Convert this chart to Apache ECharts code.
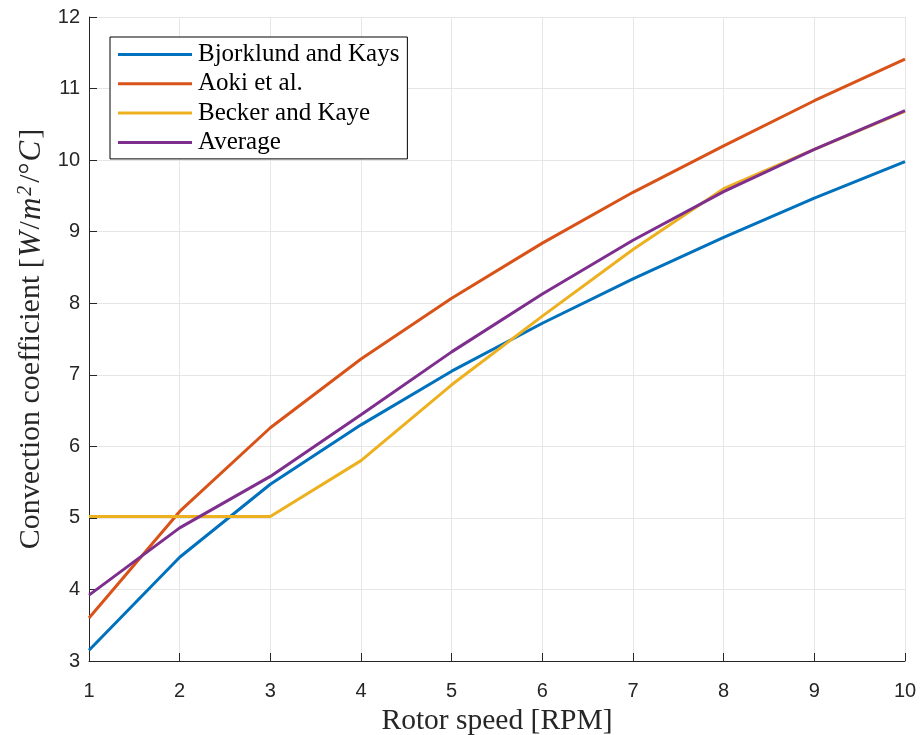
<!DOCTYPE html>
<html>
<head>
<meta charset="utf-8">
<script src="https://cdn.jsdelivr.net/npm/echarts@6/dist/echarts.min.js"></script>
<style>html,body{margin:0;padding:0;background:#fff}#c{width:921px;height:735px}</style>
</head>
<body>
<div id="c"></div>
<script>
const rpm = [1, 2, 3, 4, 5, 6, 7, 8, 9, 10];
const seriesNames = ['Bjorklund and Kays', 'Aoki et al.', 'Becker and Kaye', 'Average'];
const bjorklund = [3.15, 4.45, 5.47, 6.30, 7.05, 7.72, 8.34, 8.92, 9.47, 9.98];
const aoki = [3.60, 5.09, 6.26, 7.22, 8.07, 8.84, 9.55, 10.20, 10.83, 11.41];
const becker = [5.02, 5.02, 5.02, 5.80, 6.86, 7.82, 8.75, 9.60, 10.15, 10.68];
const average = [3.92, 4.86, 5.58, 6.44, 7.32, 8.13, 8.88, 9.56, 10.15, 10.69];
const colors = ['#0072BD', '#D95319', '#EDB120', '#7E2F8E'];

const allData = [bjorklund, aoki, becker, average];
const chart = echarts.init(document.getElementById('c'), null, {renderer: 'canvas'});
const serif = 'Liberation Serif';
const sans = 'Liberation Sans';
chart.setOption({
  animation: false,
  backgroundColor: '#fff',
  grid: {left: 89, right: 16, top: 17, bottom: 74, containLabel: false, outerBoundsMode: 'none'},
  legend: {
    orient: 'vertical',
    left: 110, top: 37,
    data: seriesNames,
    icon: 'rect',
    itemWidth: 74, itemHeight: 3,
    itemGap: 4.3,
    backgroundColor: '#fff',
    borderColor: '#000', borderWidth: 1,
    padding: [5, 8, 4, 8],
    textStyle: {fontFamily: serif, fontSize: 25, lineHeight: 24, color: '#000', padding: [0,0,0,1]}
  },
  xAxis: {
    type: 'value', min: 1, max: 10, interval: 1,
    name: 'Rotor speed [RPM]', nameLocation: 'middle', nameGap: 44,
    nameTextStyle: {fontFamily: serif, fontSize: 29.5, color: '#262626'},
    axisLine: {show: true, lineStyle: {color: '#262626', width: 1}},
    axisTick: {show: true, inside: true, length: 8, lineStyle: {color: '#262626'}},
    axisLabel: {fontFamily: sans, fontSize: 20, color: '#262626', margin: 20},
    splitLine: {show: true, lineStyle: {color: '#e6e6e6', width: 1}}
  },
  yAxis: {
    type: 'value', min: 3, max: 12, interval: 1,
    name: '{n|Convection coefficient [}{i|W}{n|/}{i|m}{s|2}{n|/°}{i|C}{n|]}',
    nameLocation: 'middle', nameGap: 40, nameRotate: 90,
    nameTextStyle: {
      color: '#262626',
      rich: {
        n: {fontFamily: serif, fontSize: 30, color: '#262626'},
        i: {fontFamily: serif, fontSize: 31, fontStyle: 'italic', color: '#262626', padding: [0,2,0,1]},
        s: {fontFamily: serif, fontSize: 20, fontStyle: 'italic', color: '#262626', verticalAlign: 'top', padding: [0,3,12,0]}
      }
    },
    axisLine: {show: true, lineStyle: {color: '#262626', width: 1}},
    axisTick: {show: true, inside: true, length: 8, lineStyle: {color: '#262626'}},
    axisLabel: {fontFamily: sans, fontSize: 20, color: '#262626', margin: 9},
    splitLine: {show: true, lineStyle: {color: '#e6e6e6', width: 1}}
  },
  series: seriesNames.map((n, k) => ({
    name: n, type: 'line',
    data: rpm.map((x, j) => [x, allData[k][j]]),
    showSymbol: false, symbol: 'none',
    lineStyle: {color: colors[k], width: 3},
    itemStyle: {color: colors[k]},
    z: 2 + (k === 3 ? 1 : 0)
  }))
});
</script>
</body>
</html>
